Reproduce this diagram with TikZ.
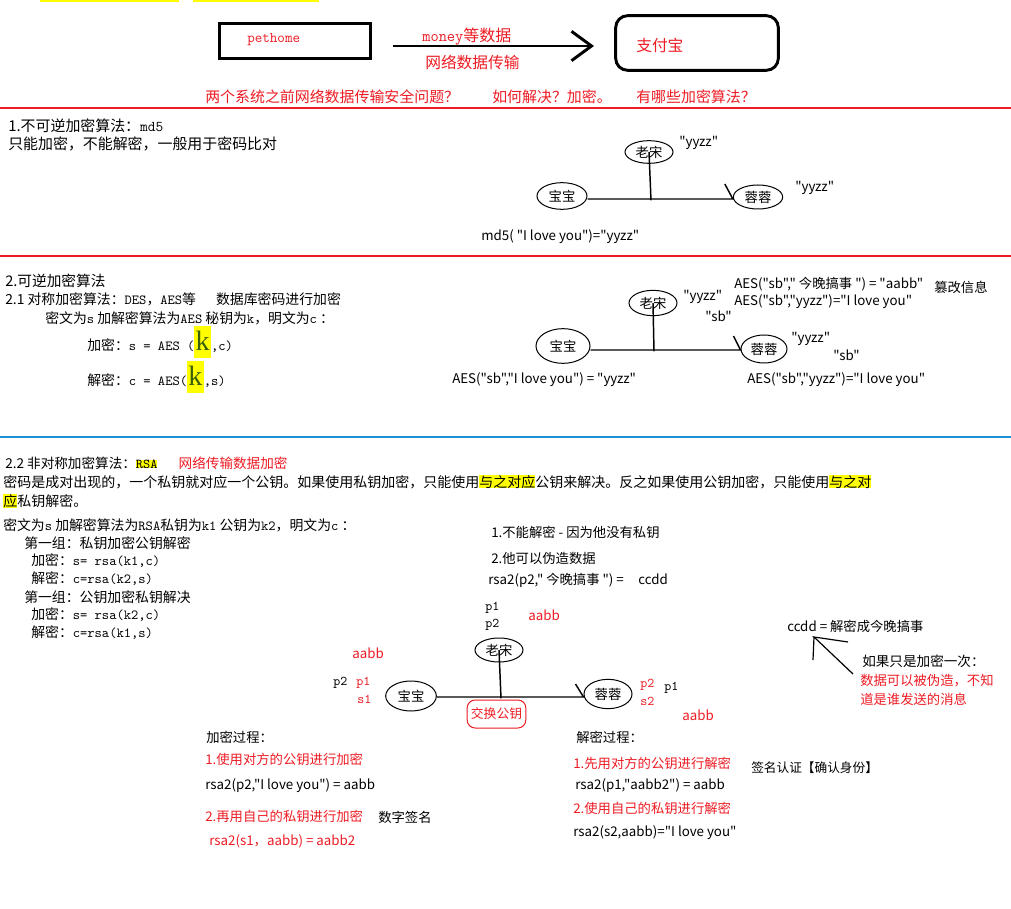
\documentclass[tikz,border=0pt]{standalone}
\usepackage{fontspec}
\setmainfont{Noto Sans CJK SC}[Ligatures=TeXOff]
\newfontfamily\serifk{Liberation Serif}
\usepackage{xcolor}
\usepackage{tikz}
\usetikzlibrary{arrows.meta,positioning,shapes.geometric}
\definecolor{rouge}{HTML}{ED1C24}
\definecolor{bleu}{HTML}{1E90D6}
\definecolor{jaune}{HTML}{FFFF00}
\definecolor{vertk}{HTML}{3A5F0B}
\newcommand{\mn}[1]{{\ttfamily #1}}
\newcommand{\jaune}[1]{{\setlength{\fboxsep}{0pt}\colorbox{jaune}{#1}}}
\newcommand{\grandk}{{\setlength{\fboxsep}{1pt}\colorbox{jaune}{\rule[-4pt]{0pt}{22pt}\serifk\fontsize{21}{21}\selectfont\color{vertk}k}}}
\tikzset{
  gros/.style={anchor=west, inner sep=0pt, font=\fontsize{11.2}{14}\selectfont},
  moyen/.style={anchor=west, inner sep=0pt, font=\fontsize{10.4}{13}\selectfont},
  etiq/.style={anchor=west, inner sep=0pt, font=\fontsize{10}{12}\selectfont},
  perso/.style={ellipse, draw, line width=0.75pt, inner sep=0pt, font=\fontsize{10}{12}\selectfont},
  lien/.style={line width=1.1pt},
  filet/.style={line width=2.2pt, draw=#1},
}
\begin{document}
\begin{tikzpicture}[x=0.75pt, y=-0.75pt]
\useasboundingbox (0,0) rectangle (1011,909);
\fill[white] (0,0) rectangle (1011,909);
\fill[jaune] (40,0) rectangle (179,2.5);
\fill[jaune] (193,0) rectangle (319,2.5);

\node[draw, line width=2.2pt, minimum width=113pt, minimum height=26pt] (pet) at (295,41) {};
\node[etiq, text=rouge, font=\fontsize{11}{12}\selectfont\ttfamily] (pettxt) at (247,40) {pethome};
\node[draw, line width=2.2pt, rounded corners=9pt, minimum width=122pt, minimum height=41pt] (zfb) at (697,43) {};
\node[gros, text=rouge, font=\fontsize{11.8}{14}\selectfont] (zfbtxt) at (636,45) {支付宝};
\coordinate (a0) at (393,46);
\coordinate (a1) at (594,46);
\draw[line width=2.2pt, -{Straight Barb[length=15pt, width=22pt]}] (a0) -- (a1);
\node[gros, text=rouge, font=\fontsize{12}{14}\selectfont] (money) at (422,37) {\mn{money}等数据};
\node[gros, text=rouge, font=\fontsize{11.8}{14}\selectfont] (reseau) at (425,62) {网络数据传输};
\node[gros, text=rouge] (q1) at (205,97) {两个系统之前网络数据传输安全问题？};
\node[gros, text=rouge] (q2) at (492,97) {如何解决？加密。};
\node[gros, text=rouge] (q3) at (636,97) {有哪些加密算法？};
\draw[filet=rouge] (0,108) -- (1011,108);

\node[gros] (t1a) at (8,126) {1.不可逆加密算法：\mn{md5}};
\node[gros] (t1b) at (8,144) {只能加密，不能解密，一般用于密码比对};
\node[perso, minimum width=36pt, minimum height=17pt] (ls1) at (649,152) {老宋};
\node[perso, minimum width=37.5pt, minimum height=20pt] (bb1) at (562,196) {宝宝};
\node[perso, minimum width=37pt, minimum height=18pt] (rr1) at (758,197) {蓉蓉};
\coordinate (j1) at (651,199);
\draw[lien] (bb1.east |- j1) -- (rr1.west |- j1) -- ++(-8,-15);
\draw[lien] (ls1.center) -- ([yshift=-1pt]j1);
\node[etiq] (y1a) at (679,143) {"yyzz"};
\node[etiq] (y1b) at (795,188) {"yyzz"};
\node[etiq] (md5) at (481,237) {md5( "I love you")="yyzz"};
\draw[filet=rouge] (0,256) -- (1011,256);

\node[gros, font=\fontsize{11}{14}\selectfont] (t2a) at (5,281) {2.可逆加密算法};
\node[moyen] (t2b) at (5,299) {2.1 对称加密算法：\mn{DES}，\mn{AES}等\hspace{15pt}数据库密码进行加密};
\node[moyen] (t2c) at (45,318) {密文为\mn{s} 加解密算法为\mn{AES} 秘钥为\mn{k}，明文为\mn{c} ：};
\node[moyen, anchor=base west] (t2d) at (87,351) {加密：\mn{s = AES (}\grandk\mn{,c)}};
\node[moyen, anchor=base west] (t2e) at (87,386) {解密：\mn{c = AES(}\grandk\mn{,s)}};
\node[perso, minimum width=36pt, minimum height=19pt] (ls2) at (653,303) {老宋};
\node[perso, minimum width=40.5pt, minimum height=26pt] (bb2) at (563,346) {宝宝};
\node[perso, minimum width=34.5pt, minimum height=21pt] (rr2) at (764,349) {蓉蓉};
\coordinate (j2) at (654,350);
\draw[lien] (bb2.east |- j2) -- (rr2.west |- j2) -- ++(-7,-14);
\draw[lien] (ls2.center) -- ([yshift=-1pt]j2);
\node[etiq] (y2a) at (683,297) {"yyzz"};
\node[etiq] (sb2a) at (705,316) {"sb"};
\node[etiq] (y2b) at (791,339) {"yyzz"};
\node[etiq] (sb2b) at (833,355) {"sb"};
\node[etiq] (aes1) at (734,284) {AES("sb"," 今晚搞事 ") = "aabb"};
\node[etiq] (cuangai) at (934,287) {篡改信息};
\node[etiq] (aes2) at (734,302) {AES("sb","yyzz")="I love you"};
\node[etiq] (aes3) at (452,380) {AES("sb","I love you") = "yyzz"};
\node[etiq] (aes4) at (747,380) {AES("sb","yyzz")="I love you"};
\draw[filet=bleu, line width=1.6pt] (0,437) -- (1011,437);

\node[moyen, font=\fontsize{10.2}{13}\selectfont] (t3a) at (5,463) {2.2 非对称加密算法：\jaune{\mn{RSA}}\hspace{16pt}\textcolor{rouge}{网络传输数据加密}};
\node[moyen, font=\fontsize{10.5}{13}\selectfont] (t3b) at (3,482) {密码是成对出现的，一个私钥就对应一个公钥。如果使用私钥加密，只能使用\jaune{与之对应}公钥来解决。反之如果使用公钥加密，只能使用\jaune{与之对}};
\node[moyen, font=\fontsize{10.5}{13}\selectfont] (t3c) at (3,501) {\jaune{应}私钥解密。};
\node[moyen] (t3d) at (3,525) {密文为\mn{s} 加解密算法为\mn{RSA}私钥为\mn{k1} 公钥为\mn{k2}，明文为\mn{c} ：};
\node[moyen] (g1) at (24,543) {第一组：私钥加密公钥解密};
\node[moyen] (g1a) at (31,561) {加密：\mn{s= rsa(k1,c)}};
\node[moyen] (g1b) at (31,579) {解密：\mn{c=rsa(k2,s)}};
\node[moyen] (g2) at (24,597) {第一组：公钥加密私钥解决};
\node[moyen] (g2a) at (31,615) {加密：\mn{s= rsa(k2,c)}};
\node[moyen] (g2b) at (31,633) {解密：\mn{c=rsa(k1,s)}};

\node[etiq] (n1) at (491,532) {1.不能解密 - 因为他没有私钥};
\node[etiq] (n2) at (491,558) {2.他可以伪造数据};
\node[etiq] (n3) at (488,580) {rsa2(p2," 今晚搞事 ") =\hspace{11pt}ccdd};
\node[etiq, font=\fontsize{10}{12}\selectfont\ttfamily] (p1l) at (485,608) {p1};
\node[etiq, font=\fontsize{10}{12}\selectfont\ttfamily] (p2l) at (485,625) {p2};
\node[etiq, text=rouge] (ab1) at (528,615) {aabb};
\node[perso, minimum width=36pt, minimum height=18pt] (ls3) at (499,650) {老宋};
\node[perso, minimum width=38pt, minimum height=22.5pt] (bb3) at (411,696) {宝宝};
\node[perso, minimum width=36pt, minimum height=22pt] (rr3) at (608,694) {蓉蓉};
\coordinate (j3) at (501,697);
\draw[lien] (bb3.east |- j3) -- (rr3.west |- j3) -- ++(-8,-13);
\draw[lien] (ls3.center) -- ([yshift=-1pt]j3);
\node[draw=rouge, line width=0.75pt, rounded corners=6pt, minimum width=44pt, minimum height=21pt, inner sep=0pt, text=rouge, font=\fontsize{9.6}{12}\selectfont] (jh) at (496.5,714) {交换公钥};
\node[etiq, text=rouge] (ab2) at (352,653) {aabb};
\node[etiq, font=\fontsize{10}{12}\selectfont\ttfamily] (bp2) at (333,683) {p2};
\node[etiq, text=rouge, font=\fontsize{10}{12}\selectfont\ttfamily] (bp1) at (356,683) {p1};
\node[etiq, text=rouge, font=\fontsize{10}{12}\selectfont\ttfamily] (bs1) at (357,699) {s1};
\node[etiq, text=rouge, font=\fontsize{10}{12}\selectfont\ttfamily] (rp2) at (640,685) {p2};
\node[etiq, text=rouge, font=\fontsize{10}{12}\selectfont\ttfamily] (rs2) at (640,701) {s2};
\node[etiq, font=\fontsize{10}{12}\selectfont\ttfamily] (rp1) at (664,688) {p1};
\node[etiq, text=rouge] (ab3) at (682,715) {aabb};

\node[etiq] (ccdd) at (787,626) {ccdd = 解密成今晚搞事};
\coordinate (pointe) at (814,637);
\draw[lien, line width=0.9pt] (853,674) -- (pointe) -- (848,642);
\draw[lien, line width=0.9pt] (pointe) -- (813,660);
\node[etiq, font=\fontsize{10.2}{12}\selectfont] (si1) at (862,661) {如果只是加密一次：};
\node[etiq, text=rouge] (si2) at (860,681) {数据可以被伪造，不知};
\node[etiq, text=rouge] (si3) at (860,699) {道是谁发送的消息};

\node[etiq] (chj) at (206,737) {加密过程：};
\node[etiq, text=rouge] (chj1) at (205,759) {1.使用对方的公钥进行加密};
\node[etiq] (chj2) at (205,786) {rsa2(p2,"I love you") = aabb};
\node[etiq, text=rouge] (chj3) at (205,816) {2.再用自己的私钥进行加密};
\node[etiq] (szqm) at (378,817) {数字签名};
\node[etiq, text=rouge] (chj4) at (209,841) {rsa2(s1，aabb) = aabb2};
\node[etiq] (jmj) at (576,737) {解密过程：};
\node[etiq, text=rouge] (jmj1) at (573,763) {1.先用对方的公钥进行解密};
\node[etiq] (jmj2) at (575,786) {rsa2(p1,"aabb2") = aabb};
\node[etiq, text=rouge] (jmj3) at (573,808) {2.使用自己的私钥进行解密};
\node[etiq] (jmj4) at (573,833) {rsa2(s2,aabb)="I love you"};
\node[etiq, font=\fontsize{9.5}{12}\selectfont] (qmrz) at (751,768) {签名认证【确认身份】};
\end{tikzpicture}
\end{document}
